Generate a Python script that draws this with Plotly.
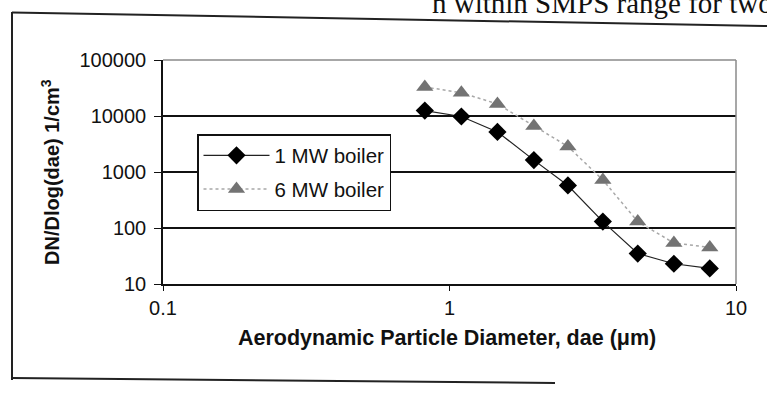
import plotly.graph_objects as go

# ---- data ----
diam = [0.82, 1.10, 1.47, 1.97, 2.59, 3.43, 4.54, 6.07, 8.10]
mw1 = [12500, 9800, 5200, 1630, 575, 130, 35, 23, 19]
mw6 = [33000, 26000, 16400, 6600, 2860, 720, 130, 54, 45]
names = ["1 MW boiler", "6 MW boiler"]
ytick_vals = [10, 100, 1000, 10000, 100000]
ytick_text = ["10", "100", "1000", "10000", "100000"]
xtick_vals = [0.1, 1, 10]
xtick_text = ["0.1", "1", "10"]

W, H = 767, 405
L, R, T, B = 163, 736, 60, 284
PW, PH = R - L, B - T


def px(x):
    return (x - L) / PW


def py(y):
    return (B - y) / PH


FONT = "Arial, Liberation Sans, sans-serif"
INK = "#111111"

fig = go.Figure()
fig.add_trace(go.Scatter(
    x=diam, y=mw1, name=names[0], mode="lines+markers", legendgroup="a",
    line=dict(color="#222222", width=1.2),
    marker=dict(symbol="diamond", size=14, color="black"),
))
fig.add_trace(go.Scatter(
    x=diam, y=mw6, name=names[1], mode="lines+markers", legendgroup="b",
    line=dict(color="#a8a8a8", width=1.5, dash="dot"),
    marker=dict(symbol="triangle-up", size=15, color="#737373"),
))

fig.update_layout(
    width=W, height=H,
    margin=dict(l=L, r=W - R, t=T, b=H - B),
    paper_bgcolor="white", plot_bgcolor="white",
    font=dict(family=FONT, size=20, color=INK),
    showlegend=True,
    legend=dict(
        x=px(197), y=py(134), xanchor="left", yanchor="top",
        bordercolor=INK, borderwidth=1.5, bgcolor="white",
        font=dict(family=FONT, size=20.5, color=INK),
        tracegroupgap=4, itemwidth=66,
    ),
    xaxis=dict(
        type="log", range=[-1, 1],
        tickvals=xtick_vals, ticktext=xtick_text,
        showgrid=False, zeroline=False,
        showline=True, linecolor=INK, linewidth=1.5,
        ticks="outside", ticklen=5, tickcolor=INK,
        tickfont=dict(family=FONT, size=20, color=INK),
    ),
    yaxis=dict(
        type="log", range=[1, 5],
        tickvals=ytick_vals, ticktext=ytick_text,
        showgrid=True, gridcolor=INK, gridwidth=1.5,
        zeroline=False,
        showline=True, linecolor=INK, linewidth=1.5,
        ticks="outside", ticklen=7, tickcolor=INK,
        ticklabelstandoff=4,
        tickfont=dict(family=FONT, size=20, color=INK),
    ),
)

shapes = [
    # plot border top / right (gray)
    dict(type="line", xref="x domain", yref="y domain", x0=0, x1=1, y0=1, y1=1,
         line=dict(color="#8a8a8a", width=1.5)),
    dict(type="line", xref="x domain", yref="y domain", x0=1, x1=1, y0=0, y1=1,
         line=dict(color="#8a8a8a", width=1.5)),
    # outer frame
    dict(type="line", xref="paper", yref="paper", x0=px(12), x1=px(12), y0=py(12), y1=py(380),
         line=dict(color="#222222", width=2)),
    dict(type="line", xref="paper", yref="paper", x0=px(12), x1=px(767), y0=py(12.5), y1=py(26),
         line=dict(color="#222222", width=2)),
    dict(type="line", xref="paper", yref="paper", x0=px(12), x1=px(555), y0=py(378), y1=py(383),
         line=dict(color="#222222", width=2)),
]
fig.update_layout(shapes=shapes)

fig.add_annotation(
    text="DN/Dlog(dae) 1/cm<sup>3</sup>", textangle=-90,
    xref="paper", yref="paper", x=px(50), y=py(172),
    xanchor="center", yanchor="middle", showarrow=False,
    font=dict(family=FONT, size=20, color=INK, weight="bold"),
)
fig.add_annotation(
    text="Aerodynamic Particle Diameter, dae (\u03bcm)",
    xref="paper", yref="paper", x=px(447), y=py(338),
    xanchor="center", yanchor="middle", showarrow=False,
    font=dict(family=FONT, size=21.5, color=INK, weight="bold"),
)
fig.add_annotation(
    text="n within SMPS range for two t",
    xref="paper", yref="paper", x=px(430), y=py(21),
    xanchor="left", yanchor="bottom", showarrow=False,
    font=dict(family="Liberation Serif, Times New Roman, serif", size=29, color=INK),
)

fig.write_html(
    "out.html",
    config={"displayModeBar": False},
    post_script="document.body.style.margin='0';",
)
